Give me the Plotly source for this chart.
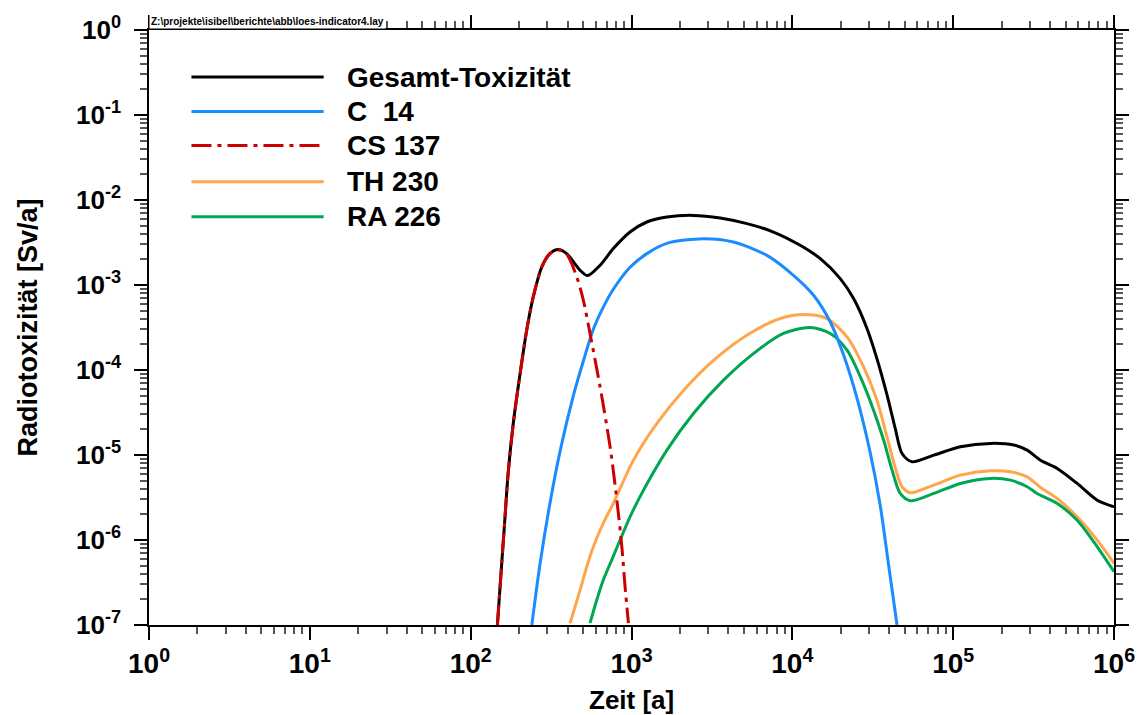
import plotly.graph_objects as go

# ---- data: time [a] and radiotoxicity [Sv/a] per curve ----
t_total = [146.6, 156, 163, 171, 184, 203, 223, 245, 277, 311, 351, 395, 457, 479, 533,
           638, 771, 979, 1245, 1660, 2427, 3556, 5224, 7638, 11190, 14930, 19860, 24040,
           29110, 33570, 38820, 43650, 48080, 55460, 75680, 110900, 170600, 238200,
           288400, 349100, 443600, 590200, 787000, 1000000]
v_total = [1.0e-7, 5.31e-7, 1.71e-6, 6.07e-6, 2.35e-5, 9.10e-5, 2.94e-4, 7.23e-4, 1.63e-3,
           2.34e-3, 2.61e-3, 2.34e-3, 1.66e-3, 1.49e-3, 1.29e-3, 1.71e-3, 2.68e-3, 4.20e-3,
           5.51e-3, 6.31e-3, 6.59e-3, 6.14e-3, 5.27e-3, 4.20e-3, 2.93e-3, 2.04e-3, 1.19e-3,
           6.92e-4, 3.08e-4, 1.36e-4, 5.06e-5, 2.05e-5, 1.04e-5, 8.32e-6, 9.95e-6, 1.25e-5,
           1.37e-5, 1.31e-5, 1.14e-5, 8.69e-6, 6.95e-6, 4.63e-6, 2.94e-6, 2.46e-6]

t_c14 = [240, 269, 309, 360, 435, 501, 579, 668, 771, 979, 1245, 1660, 2799, 4305, 6950,
         10160, 13550, 17220, 20800, 25230, 30550, 35240, 39720, 44770]
v_c14 = [1.0e-7, 5.01e-7, 2.51e-6, 1.12e-5, 5.01e-5, 1.26e-4, 3.02e-4, 5.50e-4, 8.91e-4,
         1.62e-3, 2.34e-3, 3.09e-3, 3.51e-3, 3.21e-3, 2.23e-3, 1.30e-3, 7.57e-4, 3.67e-4,
         1.51e-4, 4.68e-5, 1.05e-5, 2.51e-6, 5.01e-7, 1.0e-7]

t_cs137 = [146.6, 156, 163, 171, 184, 203, 223, 245, 277, 311, 351, 395, 457, 502, 552,
           638, 736, 811, 871, 912, 957]
v_cs137 = [1.0e-7, 5.31e-7, 1.71e-6, 6.07e-6, 2.35e-5, 9.10e-5, 2.94e-4, 7.23e-4, 1.63e-3,
           2.34e-3, 2.58e-3, 2.30e-3, 1.24e-3, 6.61e-4, 2.69e-4, 6.32e-5, 1.25e-5, 2.94e-6,
           8.32e-7, 2.82e-7, 1.05e-7]

t_th230 = [415, 479, 527, 579, 668, 771, 1028, 1435, 2104, 3236, 5212, 8414, 11750, 16410,
           21880, 27730, 33570, 38820, 43650, 48080, 54200, 75680, 110900, 170600, 227000,
           288400, 349100, 443600, 590200, 787000, 1000000]
v_th230 = [1.05e-7, 2.57e-7, 4.84e-7, 8.32e-7, 1.58e-6, 2.69e-6, 8.71e-6, 2.34e-5, 5.75e-5,
           1.30e-4, 2.57e-4, 4.03e-4, 4.49e-4, 4.03e-4, 2.45e-4, 1.09e-4, 4.42e-5, 1.62e-5,
           7.08e-6, 4.23e-6, 3.59e-6, 4.43e-6, 5.79e-6, 6.52e-6, 6.34e-6, 5.53e-6, 4.15e-6,
           3.08e-6, 1.87e-6, 9.98e-7, 5.31e-7]

t_ra226 = [552, 608, 668, 753, 849, 979, 1130, 1660, 2427, 3733, 5728, 8810, 12910, 17220,
           21880, 26490, 31990, 36980, 41690, 46880, 54200, 75680, 110900, 170600, 227000,
           288400, 332700, 443600, 590200, 787000, 1000000]
v_ra226 = [1.05e-7, 1.97e-7, 3.39e-7, 5.81e-7, 1.0e-6, 1.87e-6, 3.24e-6, 1.14e-5, 3.08e-5,
           7.59e-5, 1.56e-4, 2.69e-4, 3.16e-4, 2.69e-4, 1.71e-4, 8.30e-5, 3.37e-5, 1.49e-5,
           6.64e-6, 3.53e-6, 2.89e-6, 3.53e-6, 4.63e-6, 5.30e-6, 5.06e-6, 4.23e-6, 3.53e-6,
           2.69e-6, 1.71e-6, 8.32e-7, 4.24e-7]

x_decades = [0, 1, 2, 3, 4, 5, 6]
y_decades = [0, -1, -2, -3, -4, -5, -6, -7]

names = ["Gesamt-Toxizität", "C  14", "CS 137", "TH 230", "RA 226"]
colors = ["#000000", "#1a8cff", "#cc0000", "#ffa64d", "#00a651"]
dashes = ["solid", "solid", "20px,6px,4px,6px", "solid", "solid"]

FONT = "Liberation Sans, Arial, sans-serif"

series = {
    "Gesamt-Toxizität": (t_total, v_total),
    "C  14": (t_c14, v_c14),
    "CS 137": (t_cs137, v_cs137),
    "TH 230": (t_th230, v_th230),
    "RA 226": (t_ra226, v_ra226),
}
style = {n: (c, d) for n, c, d in zip(names, colors, dashes)}

fig = go.Figure()
# drawing order: total first, Cs-137 last (on the overlaid axes, hence on top)
for n in ["Gesamt-Toxizität", "TH 230", "RA 226", "C  14", "CS 137"]:
    t, v = series[n]
    c, d = style[n]
    on_top = n == "CS 137"
    fig.add_trace(go.Scatter(
        x=t, y=v, mode="lines", name=n, showlegend=False,
        xaxis="x2" if on_top else "x", yaxis="y2" if on_top else "y",
        line=dict(color=c, width=3, dash=d, shape="spline", smoothing=0.8),
    ))

# hand-made legend block with long sample lines
legend_y = [0.921, 0.863, 0.806, 0.745, 0.686]
for n, yy in zip(names, legend_y):
    c, d = style[n]
    fig.add_shape(type="line", xref="paper", yref="paper",
                  x0=0.044, x1=0.181, y0=yy, y1=yy,
                  line=dict(color=c, width=3, dash=d))
    fig.add_annotation(xref="paper", yref="paper", x=0.203, y=yy, text=n,
                       showarrow=False, xanchor="left", yanchor="middle",
                       font=dict(family=FONT, size=28, color="black", weight="bold"))

# file-path stamp in the upper left corner
fig.add_annotation(xref="paper", yref="paper", x=0.0, y=1.0, yshift=1,
                   text="Z:\\projekte\\isibel\\berichte\\abb\\loes-indicator4.lay",
                   showarrow=False, xanchor="left", yanchor="bottom",
                   bgcolor="white", borderpad=1,
                   font=dict(family=FONT, size=10, color="black", weight="bold"))

# axis titles
fig.add_annotation(xref="paper", yref="paper", x=0.5, y=-0.126, text="Zeit [a]",
                   showarrow=False, xanchor="center", yanchor="middle",
                   font=dict(family=FONT, size=26, color="black", weight="bold"))
fig.add_annotation(xref="paper", yref="paper", x=-0.1264, y=0.5,
                   text="Radiotoxizität [Sv/a]", textangle=-90,
                   showarrow=False, xanchor="center", yanchor="middle",
                   font=dict(family=FONT, size=27, color="black", weight="bold"))

x_minor = [m * 10 ** d for d in x_decades[:-1] for m in range(2, 10)]
y_minor = [m * 10.0 ** d for d in y_decades[1:] for m in range(2, 10)]

axis_common = dict(
    type="log", showline=True, linecolor="black", linewidth=1.5,
    ticks="outside", tickwidth=1.5, mirror="allticks",
    showgrid=False, zeroline=False,
)

fig.update_layout(
    # major ticks with labels
    xaxis=dict(
        **axis_common, range=[0, 6], ticklen=13, tickcolor="black",
        tickmode="array", tickvals=[10 ** d for d in x_decades],
        ticktext=[f"10<sup>{d}</sup>" for d in x_decades],
        ticklabelstandoff=0,
        tickfont=dict(family=FONT, size=28, color="black", weight="bold"),
    ),
    yaxis=dict(
        **axis_common, range=[-7, 0], ticklen=13, tickcolor="black",
        tickmode="array", tickvals=[10.0 ** d for d in y_decades],
        ticktext=[f"10<sup>{d}</sup>" for d in y_decades],
        ticklabelstandoff=8,
        tickfont=dict(family=FONT, size=26, color="black", weight="bold"),
    ),
    # minor ticks on overlaid axes
    xaxis2=dict(
        **axis_common, range=[0, 6], ticklen=7, tickcolor="#555555",
        overlaying="x", anchor="y", side="bottom",
        tickmode="array", tickvals=x_minor, showticklabels=False,
    ),
    yaxis2=dict(
        **axis_common, range=[-7, 0], ticklen=7, tickcolor="#555555",
        overlaying="y", anchor="x", side="left",
        tickmode="array", tickvals=y_minor, showticklabels=False,
    ),
    width=1142, height=715,
    margin=dict(l=149, r=28, t=30, b=90, autoexpand=False),
    plot_bgcolor="white", paper_bgcolor="white",
    font=dict(family=FONT, color="black"),
)

fig.write_html("out.html")
